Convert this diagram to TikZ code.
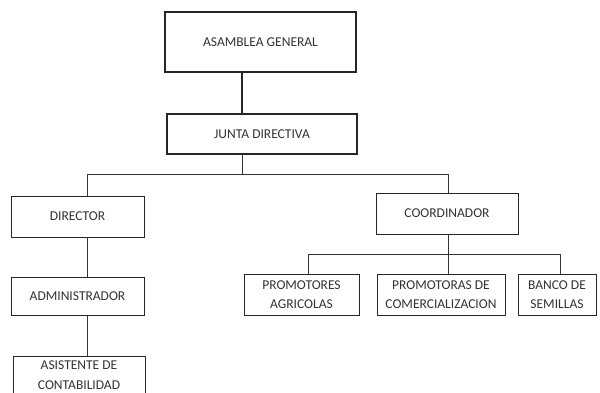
\documentclass[tikz,border=0pt]{standalone}
\usepackage{fontspec}
\setmainfont{Carlito}
\begin{document}
\begin{tikzpicture}[x=1pt,y=1pt,
  box/.style={draw=black!85, line width=0.9pt, fill=white, inner sep=0pt, align=center,
    font=\fontsize{13.5}{19.5}\selectfont, text=black!80},
  thick box/.style={box, line width=1.6pt},
  conn/.style={draw=black!80, line width=0.9pt},
  thick conn/.style={draw=black!85, line width=1.4pt}]
\clip (0,0) rectangle (600,-392);
\node[thick box, minimum width=191pt, minimum height=60pt] (asamblea) at (260.5,-42) {ASAMBLEA GENERAL};
\node[thick box, minimum width=190pt, minimum height=40pt] (junta) at (262,-134) {JUNTA DIRECTIVA};
\node[box, minimum width=133pt, minimum height=41pt] (director) at (77.5,-216.5) {DIRECTOR};
\node[box, minimum width=133pt, minimum height=38pt] (admin) at (77.5,-296) {ADMINISTRADOR};
\node[box, minimum width=132pt, minimum height=38pt] (asist) at (79,-375) {ASISTENTE DE\\CONTABILIDAD};
\node[box, minimum width=142pt, minimum height=41pt] (coord) at (447,-213.5) {COORDINADOR};
\node[box, minimum width=115pt, minimum height=41pt] (promag) at (301.5,-294.5) {PROMOTORES\\AGRICOLAS};
\node[box, minimum width=128pt, minimum height=41pt] (promcom) at (441,-294.5) {PROMOTORAS DE\\COMERCIALIZACION};
\node[box, minimum width=78pt, minimum height=41pt] (banco) at (557,-294.5) {BANCO DE\\SEMILLAS};
\coordinate (xj) at (242,-174);
\coordinate (xd) at (87,-174);
\coordinate (xc) at (448,-174);
\coordinate (b1) at (308,-254);
\coordinate (b2) at (448,-254);
\coordinate (b3) at (560,-254);
\draw[thick conn] (xj |- asamblea.south) -- (xj |- junta.north);
\draw[conn] (xj |- junta.south) -- (xj);
\draw[conn] (xd |- director.north) -- (xd) -- (xc) -- (xc |- coord.north);
\draw[conn] (xd |- director.south) -- (xd |- admin.north);
\draw[conn] (xd |- admin.south) -- (xd |- asist.north);
\draw[conn] (b2 |- coord.south) -- (b2);
\draw[conn] (b1 |- promag.north) -- (b1) -- (b3) -- (b3 |- banco.north);
\draw[conn] (b2) -- (b2 |- promcom.north);
\end{tikzpicture}
\end{document}
